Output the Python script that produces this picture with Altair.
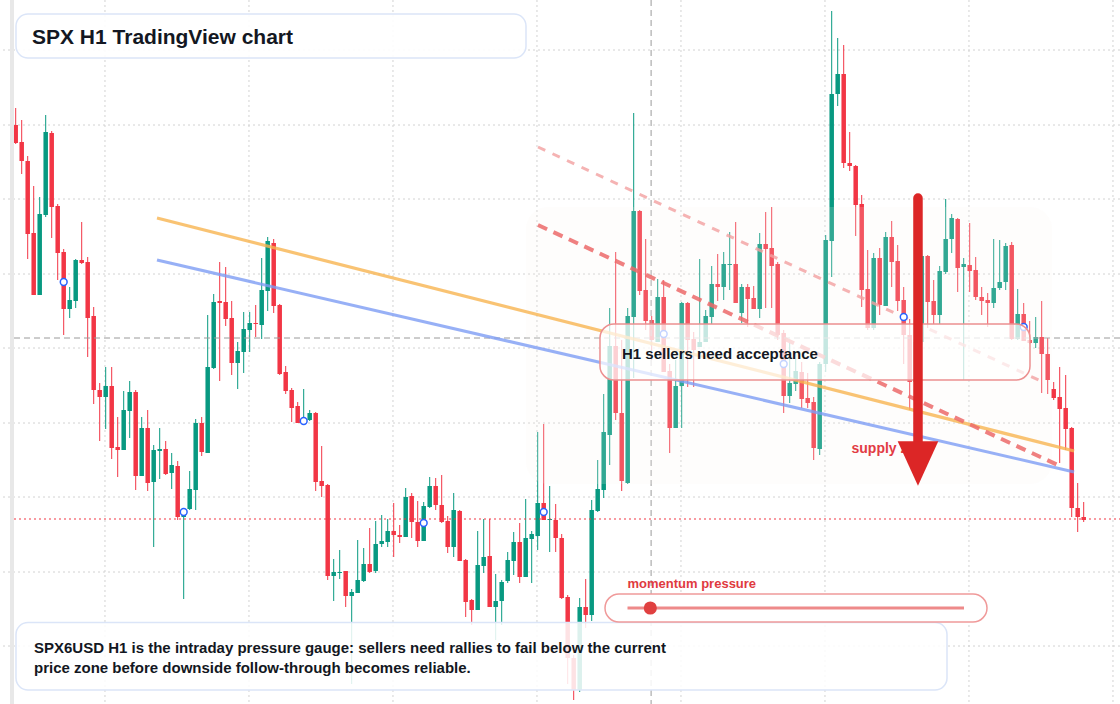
import altair as alt
import pandas as pd

# ---------------- candle data (SPX H1, price points) ----------------
open_ = [6887.5, 6885.8, 6883.9, 6876.7, 6870.5, 6878.5, 6886.7, 6879.4, 6874.8, 6869.1,
         6869.9, 6874.0, 6873.8, 6868.4, 6861.0, 6860.3, 6861.4, 6855.3, 6855.0, 6858.9,
         6860.8, 6852.4, 6857.2, 6851.8, 6854.9, 6855.1, 6852.7, 6853.4, 6848.3, 6849.1,
         6851.0, 6857.7, 6854.7, 6863.2, 6869.9, 6869.8, 6868.2, 6863.7, 6864.8, 6867.0,
         6867.7, 6867.5, 6870.9, 6875.7, 6869.5, 6862.8, 6861.0, 6859.4, 6857.7, 6858.0,
         6858.7, 6851.9, 6851.5, 6842.4, 6842.7, 6842.9, 6840.4, 6840.7, 6841.9, 6843.6,
         6842.9, 6845.6, 6845.8, 6846.9, 6846.5, 6846.3, 6850.4, 6847.8, 6845.9, 6849.3,
         6851.4, 6849.5, 6847.9, 6845.3, 6848.9, 6844.0, 6840.0, 6839.0, 6843.4, 6844.4,
         6839.3, 6839.9, 6841.9, 6843.9, 6845.8, 6842.3, 6846.1, 6846.4, 6849.7, 6848.0,
         6848.0, 6846.2, 6840.3, 6834.2, 6831.0, 6839.3, 6838.5, 6848.9, 6851.0, 6856.5,
         6865.4, 6858.7, 6851.7, 6868.3, 6878.9, 6871.0, 6868.0, 6865.8, 6870.3, 6862.9,
         6857.2, 6861.4, 6869.7, 6866.1, 6865.3, 6865.8, 6868.3, 6871.6, 6871.3, 6873.5,
         6873.6, 6868.7, 6871.3, 6870.2, 6869.1, 6875.6, 6875.2, 6873.6, 6866.7, 6860.4,
         6861.6, 6862.8, 6860.2, 6859.8, 6855.1, 6863.6, 6875.9, 6890.6, 6892.6, 6883.7,
         6883.4, 6879.6, 6871.1, 6867.2, 6874.2, 6869.4, 6876.3, 6873.9, 6870.0, 6866.5,
         6861.8, 6865.8, 6874.4, 6869.9, 6868.5, 6872.8, 6876.1, 6878.1, 6873.3, 6873.5,
         6873.0, 6870.3, 6870.0, 6869.7, 6871.2, 6871.8, 6875.5, 6866.1, 6868.6, 6866.0,
         6865.7, 6866.3, 6864.6, 6861.1, 6860.3, 6859.2, 6857.2, 6849.2, 6848.3]

high = [6889.2, 6888.0, 6884.4, 6881.4, 6880.3, 6888.5, 6886.9, 6879.6, 6875.1, 6871.3,
        6874.1, 6877.8, 6874.3, 6869.3, 6861.7, 6863.3, 6863.3, 6858.3, 6860.9, 6861.9,
        6861.0, 6858.3, 6859.0, 6855.5, 6857.2, 6855.9, 6854.7, 6853.9, 6848.9, 6852.9,
        6858.1, 6858.3, 6868.5, 6870.6, 6873.8, 6873.3, 6869.9, 6865.8, 6868.8, 6868.8,
        6869.5, 6874.2, 6876.3, 6876.1, 6869.6, 6863.4, 6861.2, 6859.8, 6861.1, 6859.0,
        6858.8, 6855.4, 6851.6, 6844.1, 6845.0, 6842.9, 6841.1, 6846.0, 6845.2, 6847.2,
        6847.9, 6848.5, 6848.1, 6849.7, 6847.5, 6851.2, 6850.7, 6849.9, 6849.8, 6852.3,
        6852.2, 6852.5, 6848.4, 6850.7, 6849.0, 6844.1, 6840.1, 6846.9, 6848.1, 6848.1,
        6842.6, 6842.0, 6844.8, 6846.8, 6847.7, 6850.1, 6846.9, 6856.8, 6857.6, 6851.4,
        6849.6, 6846.6, 6840.5, 6834.5, 6840.2, 6842.1, 6850.0, 6854.0, 6860.6, 6869.2,
        6874.8, 6866.0, 6869.2, 6888.7, 6879.0, 6876.1, 6868.4, 6872.1, 6872.0, 6863.6,
        6864.0, 6869.8, 6869.8, 6866.8, 6874.1, 6869.0, 6873.4, 6874.6, 6874.8, 6876.8,
        6877.8, 6871.6, 6871.6, 6871.4, 6876.7, 6878.8, 6879.3, 6873.8, 6867.0, 6865.7,
        6864.9, 6863.8, 6862.7, 6860.3, 6863.8, 6876.5, 6898.9, 6896.2, 6895.5, 6886.8,
        6883.5, 6880.5, 6875.0, 6874.7, 6875.2, 6876.8, 6877.9, 6875.5, 6871.3, 6868.1,
        6866.5, 6875.0, 6874.5, 6872.0, 6873.4, 6880.1, 6878.6, 6878.2, 6874.2, 6877.7,
        6874.3, 6871.3, 6870.7, 6876.1, 6876.0, 6875.7, 6875.8, 6871.1, 6869.7, 6867.9,
        6868.3, 6869.9, 6866.2, 6861.8, 6863.3, 6862.5, 6857.3, 6851.7, 6849.8]

low = [6885.6, 6882.6, 6874.1, 6870.5, 6870.5, 6878.3, 6876.2, 6872.0, 6866.5, 6868.2,
       6869.2, 6873.6, 6864.3, 6859.6, 6855.9, 6857.1, 6854.1, 6852.3, 6855.0, 6856.2,
       6851.0, 6852.4, 6850.9, 6845.3, 6852.1, 6852.5, 6851.1, 6848.0, 6840.1, 6849.0,
       6849.0, 6854.4, 6854.7, 6863.1, 6861.9, 6867.4, 6862.5, 6861.1, 6862.7, 6864.8,
       6866.3, 6866.1, 6868.9, 6868.7, 6862.5, 6860.6, 6857.8, 6857.7, 6857.6, 6857.9,
       6850.9, 6850.3, 6842.0, 6839.9, 6842.1, 6839.3, 6831.6, 6840.7, 6841.8, 6842.7,
       6842.7, 6845.3, 6845.3, 6844.3, 6845.7, 6846.3, 6846.2, 6845.3, 6845.9, 6849.2,
       6849.0, 6847.7, 6844.7, 6844.3, 6843.9, 6838.3, 6837.5, 6839.0, 6842.7, 6839.3,
       6836.0, 6837.5, 6841.7, 6842.5, 6841.7, 6842.3, 6841.7, 6845.0, 6848.0, 6844.8,
       6844.8, 6840.1, 6831.6, 6830.0, 6830.8, 6837.2, 6837.9, 6848.8, 6850.2, 6853.5,
       6858.0, 6850.9, 6851.6, 6862.2, 6870.5, 6867.0, 6864.0, 6865.8, 6862.8, 6854.7,
       6857.2, 6857.2, 6861.3, 6861.3, 6865.3, 6865.8, 6867.6, 6869.9, 6870.0, 6871.0,
       6869.7, 6867.7, 6867.3, 6869.1, 6868.2, 6869.2, 6869.2, 6866.0, 6858.7, 6859.7,
       6860.9, 6859.2, 6859.2, 6854.0, 6854.5, 6862.8, 6872.3, 6889.4, 6883.2, 6882.9,
       6876.4, 6869.3, 6867.0, 6867.0, 6868.5, 6869.4, 6871.3, 6868.9, 6863.6, 6859.0,
       6861.0, 6865.5, 6867.2, 6867.6, 6867.6, 6872.6, 6874.7, 6870.8, 6862.0, 6870.8,
       6870.0, 6868.5, 6867.3, 6869.2, 6871.0, 6871.0, 6866.0, 6866.0, 6865.9, 6865.6,
       6865.2, 6860.7, 6860.6, 6860.0, 6853.7, 6855.0, 6848.3, 6846.8, 6847.8]

close = [6885.7, 6883.9, 6876.6, 6870.5, 6878.6, 6886.8, 6879.3, 6874.7, 6869.1, 6870.0,
         6874.0, 6873.7, 6868.2, 6861.0, 6860.3, 6861.4, 6855.2, 6855.0, 6859.0, 6860.8,
         6852.4, 6857.2, 6851.7, 6855.0, 6855.1, 6852.6, 6853.5, 6848.3, 6848.8, 6851.1,
         6857.7, 6854.8, 6863.3, 6869.8, 6869.7, 6868.1, 6863.7, 6864.9, 6867.1, 6867.7,
         6867.6, 6871.0, 6875.9, 6869.4, 6862.6, 6860.9, 6859.2, 6857.7, 6858.2, 6858.7,
         6851.8, 6851.4, 6842.4, 6842.8, 6842.8, 6840.4, 6840.8, 6842.0, 6843.6, 6842.8,
         6845.6, 6845.9, 6846.9, 6846.5, 6846.3, 6850.3, 6847.8, 6845.9, 6849.4, 6851.4,
         6849.5, 6847.8, 6845.3, 6849.0, 6843.9, 6839.8, 6839.0, 6843.5, 6844.3, 6839.3,
         6839.9, 6841.8, 6844.0, 6845.8, 6842.3, 6846.2, 6846.6, 6849.7, 6848.0, 6848.1,
         6846.2, 6840.2, 6834.2, 6831.0, 6839.3, 6838.5, 6849.0, 6851.1, 6856.8, 6865.4,
         6858.7, 6851.9, 6868.4, 6878.9, 6870.9, 6867.9, 6866.0, 6870.3, 6862.8, 6857.2,
         6861.4, 6869.7, 6866.0, 6865.0, 6865.8, 6868.4, 6871.6, 6871.3, 6873.6, 6873.6,
         6869.7, 6871.3, 6870.1, 6869.1, 6875.6, 6875.1, 6873.4, 6866.5, 6860.4, 6861.7,
         6862.9, 6860.1, 6859.7, 6855.2, 6863.6, 6876.0, 6890.6, 6892.6, 6883.7, 6883.4,
         6879.5, 6871.0, 6867.2, 6874.2, 6869.5, 6876.3, 6873.8, 6869.9, 6866.5, 6861.8,
         6865.8, 6874.4, 6869.8, 6868.5, 6872.9, 6876.1, 6878.2, 6873.2, 6873.6, 6872.9,
         6870.3, 6869.9, 6869.7, 6871.2, 6871.8, 6875.4, 6866.1, 6868.6, 6865.9, 6865.7,
         6866.3, 6864.6, 6862.0, 6860.2, 6859.1, 6857.1, 6849.2, 6848.3, 6848.0]

# grid / reference values
grid_prices = [6895.0, 6887.5, 6880.1, 6872.6, 6865.2, 6857.7, 6850.3, 6842.8, 6835.4]
grid_bars = [14.88, 38.88, 62.88, 86.88, 110.88, 134.88, 158.88, 182.88]
crosshair_price = [6866.2]
crosshair_bar = [105.9]
last_price = [6848.1]

# pivot markers
marker_idx = [8, 28, 48, 68, 88, 108, 128, 148, 168]
marker_price = [6871.8, 6848.8, 6857.9, 6847.7, 6848.8, 6866.6, 6863.6, 6868.3, 6867.3]

# trend lines (bar index, price)
orange_x = [23.55, 176.4]
orange_y = [6878.2, 6854.9]
blue_x = [23.55, 176.4]
blue_y = [6874.0, 6852.8]
dash_x = [87.05, 174.4]
dash_y = [6877.5, 6853.3]
light_x = [87.05, 171.55]
light_y = [6885.3, 6861.7]

# zones / callouts
zone_x = [85.05, 172.72]
zone_y = [6879.3, 6851.6]
h1_x = [97.38, 169.05]
h1_y = [6867.6, 6862.0]
h1_label = ["H1 sellers need acceptance"]
h1_label_pos = [101.05, 6864.1]
supply_label = ["supply zone"]
supply_label_pos = [139.3, 6854.7]
arrow_x = [150.38]
arrow_y = [6880.2, 6855.8]
arrow_head_y = [6853.65]

title_text = "SPX H1 TradingView chart"
note_lines = ["SPX6USD H1 is the intraday pressure gauge: sellers need rallies to fail below the current",
              "price zone before downside follow-through becomes reliable."]
momentum_label = "momentum pressure"

# ---------------- build ----------------
df = pd.DataFrame({"i": list(range(len(open_))), "open": open_, "high": high,
                   "low": low, "close": close})
df["dir"] = ["up" if c >= o else "down" for o, c in zip(open_, close)]

xs = alt.Scale(domain=[-2.6167, 184.05], nice=False, zero=False, padding=0)
ys = alt.Scale(domain=[6829.6, 6900.0], nice=False, zero=False, padding=0)


def X(f):
    return alt.X(f, type="quantitative", scale=xs, axis=None)


def Y(f):
    return alt.Y(f, type="quantitative", scale=ys, axis=None)


one = pd.DataFrame({"k": [0]})
FONT = "Liberation Sans"
INK = "#131722"
col = alt.Color("dir:N", scale=alt.Scale(domain=["up", "down"], range=["#089981", "#f23645"]), legend=None)

left_bar = alt.Chart(one).mark_rect(color="#e8e8e8").encode(
    x=alt.value(10), x2=alt.value(14), y=alt.value(0), y2=alt.value(704))

grid_h = alt.Chart(pd.DataFrame({"p": grid_prices})).mark_rule(
    color="#d2d2d2", strokeDash=[2, 3], strokeWidth=1).encode(y=Y("p"))
grid_v = alt.Chart(pd.DataFrame({"b": grid_bars})).mark_rule(
    color="#d2d2d2", strokeDash=[2, 3], strokeWidth=1).encode(x=X("b"))

wicks = alt.Chart(df).mark_rule(strokeWidth=1).encode(
    x=X("i"), y=Y("low"), y2=alt.Y2("high"), color=col)
bodies = alt.Chart(df).mark_bar(width=4.5, orient="vertical").encode(
    x=X("i"), y=Y("open"), y2=alt.Y2("close"), color=col)

cross_h = alt.Chart(pd.DataFrame({"p": crosshair_price})).mark_rule(
    color="#9a9a9a", strokeDash=[6, 4], strokeWidth=1).encode(
    y=Y("p"), x=alt.value(14), x2=alt.value(1120))
cross_v = alt.Chart(pd.DataFrame({"b": crosshair_bar})).mark_rule(
    color="#9a9a9a", strokeDash=[6, 4], strokeWidth=1).encode(x=X("b"))
last_line = alt.Chart(pd.DataFrame({"p": last_price})).mark_rule(
    color="#f23645", strokeDash=[2, 3], strokeWidth=1.2).encode(
    y=Y("p"), x=alt.value(14), x2=alt.value(1120))

zone = alt.Chart(pd.DataFrame({"x0": [zone_x[0]], "x1": [zone_x[1]], "y0": [zone_y[0]], "y1": [zone_y[1]]})).mark_rect(
    color="#f3e4d6", opacity=0.08, cornerRadius=22).encode(
    x=X("x0"), x2=alt.X2("x1"), y=Y("y0"), y2=alt.Y2("y1"))
zone_tint = alt.Chart(pd.DataFrame({"x0": [zone_x[0]], "x1": [zone_x[1]], "y0": [zone_y[0]], "y1": [zone_y[1]]})).mark_rect(
    color="white", opacity=0.1, cornerRadius=22).encode(
    x=X("x0"), x2=alt.X2("x1"), y=Y("y0"), y2=alt.Y2("y1"))


def seg(xv, yv, **kw):
    return alt.Chart(pd.DataFrame({"x": xv, "y": yv})).mark_line(**kw).encode(x=X("x"), y=Y("y"))


orange = seg(orange_x, orange_y, color="#f7b450", strokeWidth=3.2, opacity=0.8)
blue = seg(blue_x, blue_y, color="#7d9cf4", strokeWidth=3.0, opacity=0.8)
dashed = seg(dash_x, dash_y, color="#ec6a6a", strokeWidth=4, opacity=0.85, strokeDash=[10, 7])
light = seg(light_x, light_y, color="#f3a0a0", strokeWidth=3, opacity=0.8, strokeDash=[8, 8])

markers = alt.Chart(pd.DataFrame({"i": marker_idx, "p": marker_price})).mark_point(
    shape="circle", filled=True, fill="white", stroke="#2962ff", strokeWidth=1.5,
    size=46, opacity=1).encode(x=X("i"), y=Y("p"))

h1_box = alt.Chart(pd.DataFrame({"x0": [h1_x[0]], "x1": [h1_x[1]], "y0": [h1_y[0]], "y1": [h1_y[1]]})).mark_rect(
    fill="white", fillOpacity=0.72, stroke="#ec9090", strokeWidth=1.5, cornerRadius=14).encode(
    x=X("x0"), x2=alt.X2("x1"), y=Y("y0"), y2=alt.Y2("y1"))
h1_text = alt.Chart(pd.DataFrame({"x": [h1_label_pos[0]], "y": [h1_label_pos[1]], "t": h1_label})).mark_text(
    align="left", baseline="alphabetic", font=FONT, fontSize=15, fontWeight="bold", color=INK).encode(
    x=X("x"), y=Y("y"), text="t:N")

supply_text = alt.Chart(pd.DataFrame({"x": [supply_label_pos[0]], "y": [supply_label_pos[1]], "t": supply_label})).mark_text(
    align="left", baseline="alphabetic", font=FONT, fontSize=14, fontWeight="bold", color="#e23b44").encode(
    x=X("x"), y=Y("y"), text="t:N")

shaft = alt.Chart(pd.DataFrame({"x": arrow_x, "y0": [arrow_y[0]], "y1": [arrow_y[1]]})).mark_rule(
    color="#dc2626", strokeWidth=9.5, strokeCap="round").encode(x=X("x"), y=Y("y0"), y2=alt.Y2("y1"))
head = alt.Chart(pd.DataFrame({"x": arrow_x, "y": arrow_head_y})).mark_point(
    shape="M-1,-1.1L1,-1.1L0,1.1Z", filled=True, color="#dc2626", size=1650, opacity=1,
    strokeWidth=0).encode(x=X("x"), y=Y("y"))

# momentum gauge
mom_text = alt.Chart(one).mark_text(
    text=momentum_label, align="left", baseline="alphabetic", font=FONT, fontSize=13,
    fontWeight="bold", color="#e03a40").encode(x=alt.value(627.5), y=alt.value(587.5))
mom_pill = alt.Chart(one).mark_rect(
    fill="white", stroke="#f09a9a", strokeWidth=1.5, cornerRadius=14).encode(
    x=alt.value(605), x2=alt.value(987), y=alt.value(594), y2=alt.value(622))
mom_track = alt.Chart(one).mark_rule(color="#ee8a8a", strokeWidth=3).encode(
    x=alt.value(627.5), x2=alt.value(964), y=alt.value(608))
mom_dot = alt.Chart(one).mark_point(
    shape="circle", filled=True, color="#e04040", size=172, opacity=1).encode(
    x=alt.value(650.3), y=alt.value(608))

# panels
title_box = alt.Chart(one).mark_rect(
    fill="white", fillOpacity=0.9, stroke="#dbe5f8", strokeWidth=1.5, cornerRadius=12).encode(
    x=alt.value(16), x2=alt.value(526), y=alt.value(14), y2=alt.value(58))
title = alt.Chart(one).mark_text(
    text=title_text, align="left", baseline="alphabetic", font=FONT, fontSize=21,
    fontWeight="bold", color=INK).encode(x=alt.value(32), y=alt.value(43.5))

note_box = alt.Chart(one).mark_rect(
    fill="white", fillOpacity=0.86, stroke="#dbe5f8", strokeWidth=1.5, cornerRadius=12).encode(
    x=alt.value(16), x2=alt.value(947), y=alt.value(622.5), y2=alt.value(690))
note1 = alt.Chart(one).mark_text(
    text=note_lines[0], align="left", baseline="alphabetic", font=FONT, fontSize=15,
    fontWeight="bold", color=INK).encode(x=alt.value(34), y=alt.value(653))
note2 = alt.Chart(one).mark_text(
    text=note_lines[1], align="left", baseline="alphabetic", font=FONT, fontSize=15,
    fontWeight="bold", color=INK).encode(x=alt.value(34), y=alt.value(673))

chart = alt.layer(
    grid_h, grid_v, wicks, bodies, cross_h, cross_v, last_line, zone, zone_tint,
    orange, blue, dashed, light, markers, h1_box, h1_text, supply_text, shaft, head,
    note_box, note1, note2, mom_pill, mom_track, mom_dot, mom_text,
    title_box, title, left_bar
).properties(
    width=1120, height=704, padding=0, autosize="none", background="white"
).configure_view(strokeWidth=0)

chart.save("out.html", embed_options={"renderer": "svg", "actions": False})
